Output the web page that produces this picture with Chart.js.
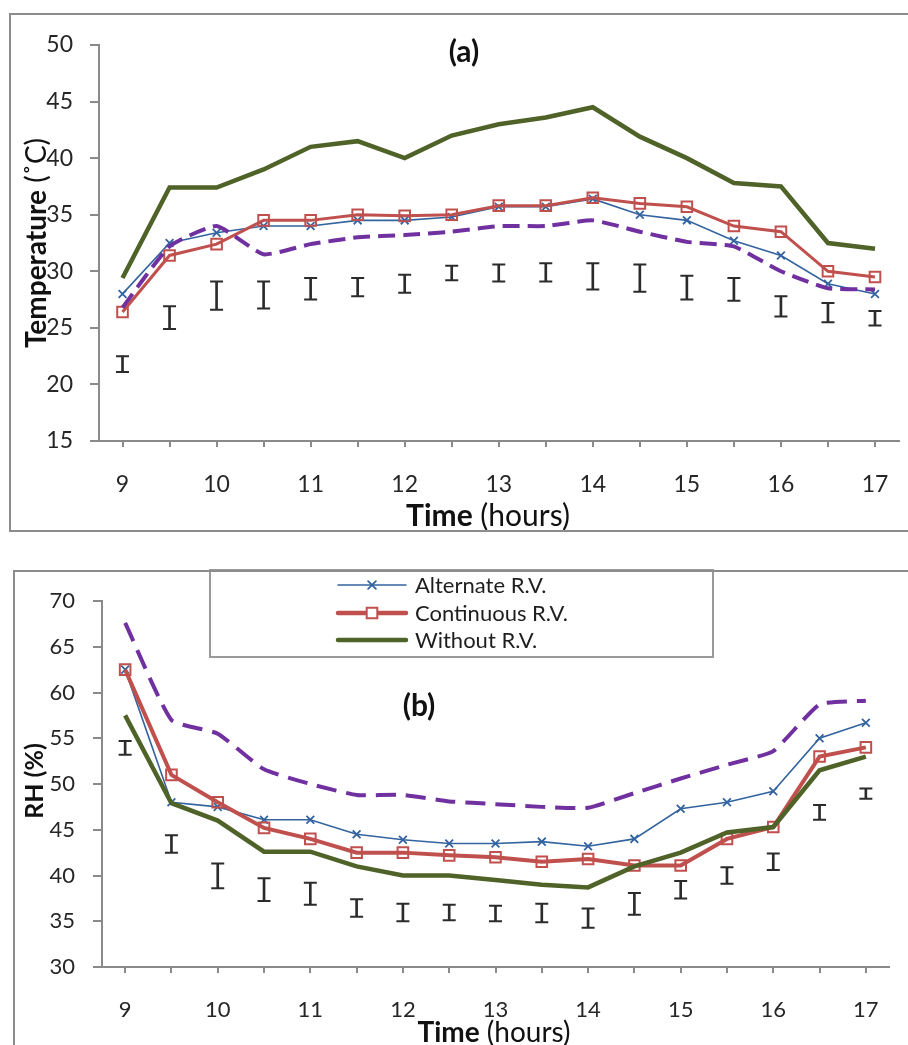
<!DOCTYPE html>
<html><head><meta charset="utf-8">
<script src="https://cdn.jsdelivr.net/npm/chart.js@4.4.1/dist/chart.umd.min.js"></script>
<style>
html,body{margin:0;padding:0;background:#fff;width:908px;height:1045px;overflow:hidden;position:relative}
.frame{position:absolute;border:2px solid #8c8c8c;box-sizing:border-box;pointer-events:none}
canvas{position:absolute;left:0}
</style></head><body>
<canvas id="c1" width="908" height="545" style="top:0px"></canvas>
<canvas id="c2" width="908" height="490" style="top:555px"></canvas>
<div class="frame" style="left:9px;top:13px;width:950px;height:519px"></div>
<div class="frame" style="left:13px;top:570px;width:950px;height:600px"></div>
<script>
// ---------- data ----------
const times = [9, 9.5, 10, 10.5, 11, 11.5, 12, 12.5, 13, 13.5, 14, 14.5, 15, 15.5, 16, 16.5, 17];
const seriesNames = ['Alternate R.V.', 'Continuous R.V.', 'Without R.V.'];

const tempAlternate  = [28.0, 32.5, 33.4, 34.0, 34.0, 34.5, 34.5, 34.8, 35.7, 35.7, 36.4, 35.0, 34.5, 32.7, 31.4, 28.9, 28.0];
const tempContinuous = [26.4, 31.4, 32.4, 34.5, 34.5, 35.0, 34.9, 35.0, 35.8, 35.8, 36.5, 36.0, 35.7, 34.0, 33.5, 30.0, 29.5];
const tempWithout    = [29.4, 37.4, 37.4, 39.0, 41.0, 41.5, 40.0, 42.0, 43.0, 43.6, 44.5, 41.9, 40.0, 37.8, 37.5, 32.5, 32.0];
const tempDashed     = [26.8, 32.2, 34.0, 31.5, 32.4, 33.0, 33.2, 33.5, 34.0, 34.0, 34.5, 33.5, 32.6, 32.2, 30.0, 28.5, 28.4];
const tempRangeLow   = [21.1, 24.9, 26.6, 26.7, 27.5, 27.8, 28.1, 29.2, 29.1, 29.1, 28.4, 28.2, 27.5, 27.4, 26.0, 25.5, 25.2];
const tempRangeHigh  = [22.5, 26.9, 29.1, 29.1, 29.4, 29.4, 29.7, 30.5, 30.6, 30.7, 30.7, 30.6, 29.6, 29.4, 27.8, 27.2, 26.5];

const rhAlternate    = [62.5, 48.0, 47.5, 46.1, 46.1, 44.5, 43.9, 43.5, 43.5, 43.7, 43.2, 44.0, 47.3, 48.0, 49.2, 55.0, 56.7];
const rhContinuous   = [62.5, 51.0, 48.0, 45.2, 44.0, 42.5, 42.5, 42.2, 42.0, 41.5, 41.8, 41.1, 41.1, 44.0, 45.3, 53.0, 54.0];
const rhWithout      = [57.5, 47.9, 46.0, 42.6, 42.6, 41.0, 40.0, 40.0, 39.5, 39.0, 38.7, 41.0, 42.5, 44.7, 45.3, 51.5, 53.0];
const rhDashed       = [67.6, 57.0, 55.5, 51.6, 50.0, 48.8, 48.8, 48.1, 47.8, 47.5, 47.4, 49.0, 50.6, 52.1, 53.6, 58.7, 59.1];
const rhRangeLow     = [53.2, 42.5, 38.6, 37.2, 36.8, 35.5, 35.0, 35.1, 35.0, 34.9, 34.3, 35.7, 37.5, 39.1, 40.6, 46.1, 48.4];
const rhRangeHigh    = [54.7, 44.4, 41.3, 39.7, 39.2, 37.4, 36.9, 36.8, 36.7, 36.9, 36.4, 38.1, 39.4, 40.9, 42.4, 47.7, 49.5];

const tempTicks = [15, 20, 25, 30, 35, 40, 45, 50];
const rhTicks = [30, 35, 40, 45, 50, 55, 60, 65, 70];

// ---------- styling ----------
const C = {
  blue: '#33649f', red: '#c0504d', green: '#4f6228', purple: '#7030a0',
  err: '#2b2b2b', axis: '#8a8a8a', text: '#262626'
};
const FONT = 'Lato, "Open Sans", sans-serif';

function drawMixed(ctx, t) {
  ctx.save();
  ctx.translate(t.x, t.y);
  if (t.rot) ctx.rotate(t.rot);
  ctx.textBaseline = 'middle';
  ctx.textAlign = 'left';
  ctx.fillStyle = t.color || '#111';
  let total = 0;
  t.parts.forEach(p => { ctx.font = p.font; p.w = ctx.measureText(p.text).width; total += p.w; });
  let cx = -total / 2;
  t.parts.forEach(p => { ctx.font = p.font; ctx.fillText(p.text, cx, 0); cx += p.w; });
  ctx.restore();
}

function extrasPlugin(texts, legend) {
  return {
    id: 'extras',
    afterDraw(chart) {
      const ctx = chart.ctx;
      texts.forEach(t => drawMixed(ctx, t));
      if (legend) {
        ctx.save();
        ctx.fillStyle = '#fff';
        ctx.fillRect(legend.x, legend.y, legend.w, legend.h);
        ctx.strokeStyle = '#9a9a9a';
        ctx.lineWidth = 2;
        ctx.strokeRect(legend.x, legend.y, legend.w, legend.h);
        legend.rows.forEach((row, i) => {
          const ds = chart.data.datasets[i];
          const y = row;
          ctx.strokeStyle = ds.borderColor;
          ctx.lineWidth = legend.widths[i];
          ctx.lineCap = 'round';
          ctx.beginPath();
          ctx.moveTo(legend.lx0, y);
          ctx.lineTo(legend.lx1, y);
          ctx.stroke();
          if (ds.pointRadius > 0) {
            ctx.fillStyle = '#fff';
            ctx.strokeStyle = ds.borderColor;
            ctx.lineWidth = ds.pointBorderWidth;
            Chart.helpers.drawPoint(ctx, {pointStyle: ds.pointStyle, radius: ds.pointRadius, rotation: 0, borderWidth: ds.pointBorderWidth}, (legend.lx0 + legend.lx1) / 2, y);
          }
          ctx.fillStyle = '#1e1e1e';
          ctx.font = legend.font;
          ctx.textBaseline = 'middle';
          ctx.textAlign = 'left';
          ctx.fillText(seriesNames[i], legend.tx, y + 1);
        });
        ctx.restore();
      }
    }
  };
}

function makeChart(id, cfg) {
  const lineDs = (data, color, width, extra) => Object.assign({
    type: 'line', data, borderColor: color, backgroundColor: color, borderWidth: width,
    pointRadius: 0, pointHoverRadius: 0, tension: 0, fill: false
  }, extra || {});
  const datasets = [
    lineDs(cfg.alt, C.blue, 1.6, {order: 3, pointStyle: 'crossRot', pointRadius: 5.5, pointBorderWidth: 1.8, pointBorderColor: C.blue}),
    lineDs(cfg.cont, C.red, cfg.redW, {order: 2, pointStyle: 'rect', pointRadius: 7.5, pointBorderWidth: 2, pointBorderColor: C.red, pointBackgroundColor: 'rgba(255,255,255,0)'}),
    lineDs(cfg.without, C.green, cfg.greenW, {order: 1}),
    lineDs(cfg.dashed, C.purple, 4, {order: 0, borderDash: cfg.dash, tension: 0.15}),
    lineDs(cfg.high, C.err, 2, {order: 4, showLine: false, pointStyle: 'line', pointRadius: 6.5, pointBorderWidth: 2, pointBorderColor: C.err}),
    lineDs(cfg.low, C.err, 2, {order: 4, showLine: false, pointStyle: 'line', pointRadius: 6.5, pointBorderWidth: 2, pointBorderColor: C.err}),
    {type: 'bar', data: cfg.low.map((l, i) => [l, cfg.high[i]]), backgroundColor: C.err, borderWidth: 0, barThickness: 2, order: 5}
  ];
  return new Chart(document.getElementById(id), {
    type: 'line',
    data: {labels: times.map(String), datasets},
    options: {
      responsive: false, animation: false, events: [],
      layout: {padding: cfg.padding},
      plugins: {legend: {display: false}, tooltip: {enabled: false}, title: {display: false}},
      scales: {
        x: {
          type: 'category', offset: true,
          ticks: {autoSkip: false, maxRotation: 0, minRotation: 0, padding: cfg.xPad,
            font: {family: FONT, size: cfg.tickSize}, color: C.text,
            callback: (v, i) => Number.isInteger(times[i]) ? String(times[i]) : ''},
          grid: {offset: false, drawOnChartArea: false, drawTicks: true, tickLength: 6, color: C.axis, lineWidth: 2},
          border: {display: true, color: C.axis, width: 2},
          afterFit: s => { s.height = cfg.xH; s.paddingLeft = 0; s.paddingRight = 0; }
        },
        y: {
          type: 'linear', min: cfg.yTicks[0], max: cfg.yTicks[cfg.yTicks.length - 1], beginAtZero: false,
          afterBuildTicks: s => { s.ticks = cfg.yTicks.map(v => ({value: v})); },
          ticks: {padding: cfg.yPad, font: {family: FONT, size: cfg.tickSize}, color: C.text},
          grid: {drawOnChartArea: false, drawTicks: true, tickLength: 9, color: C.axis, lineWidth: 2},
          border: {display: true, color: C.axis, width: 2},
          afterFit: s => { s.width = cfg.yW; s.paddingTop = 0; s.paddingBottom = 0; }
        }
      }
    },
    plugins: [extrasPlugin(cfg.texts, cfg.legend)]
  });
}

makeChart('c1', {
  alt: tempAlternate, cont: tempContinuous, without: tempWithout, dashed: tempDashed,
  low: tempRangeLow, high: tempRangeHigh, yTicks: tempTicks,
  redW: 3, greenW: 4.5, dash: [17, 8],
  padding: {top: 45, right: 2, left: 0, bottom: 0}, yW: 99, xH: 104, xPad: 24, yPad: 17, tickSize: 23,
  texts: [
    {x: 464, y: 52, parts: [{text: '(a)', font: 'bold 30px ' + FONT}]},
    {x: 488, y: 516, parts: [{text: 'Time', font: 'bold 30px ' + FONT}, {text: ' (hours)', font: '30px ' + FONT}]},
    {x: 37, y: 243, rot: -Math.PI / 2, parts: [{text: 'Temperature', font: 'bold 28px ' + FONT}, {text: ' (˚C)', font: '28px ' + FONT}]}
  ],
  legend: null
});

makeChart('c2', {
  alt: rhAlternate, cont: rhContinuous, without: rhWithout, dashed: rhDashed,
  low: rhRangeLow, high: rhRangeHigh, yTicks: rhTicks,
  redW: 4, greenW: 4.5, dash: [20, 10],
  padding: {top: 46, right: 19, left: 0, bottom: 0}, yW: 102, xH: 78, xPad: 24, yPad: 18, tickSize: 22,
  texts: [
    {x: 419, y: 151, parts: [{text: '(b)', font: 'bold 30px ' + FONT}]},
    {x: 494, y: 478, parts: [{text: 'Time', font: 'bold 28px ' + FONT}, {text: ' (hours)', font: '28px ' + FONT}]},
    {x: 35, y: 226, rot: -Math.PI / 2, parts: [{text: 'RH (%)', font: 'bold 25px ' + FONT}]}
  ],
  legend: {x: 210, y: 15, w: 503, h: 87, rows: [30, 58, 85], widths: [1.6, 4.5, 4.5], lx0: 338, lx1: 406, tx: 415, font: '22px ' + FONT}
});
</script>
</body></html>
